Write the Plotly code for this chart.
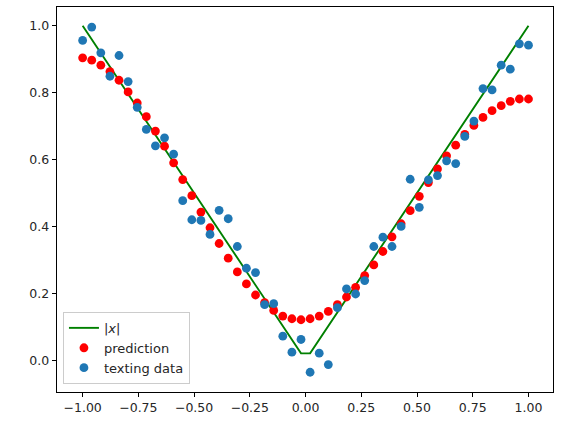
import numpy as np
import plotly.graph_objects as go

# x positions: 50 evenly spaced samples in [-1, 1]
x_vals = np.linspace(-1, 1, 50)
abs_x = np.abs(x_vals)

prediction = [0.904, 0.897, 0.882, 0.863, 0.837, 0.802, 0.769, 0.728, 0.685, 0.640,
              0.590, 0.540, 0.492, 0.443, 0.396, 0.349, 0.305, 0.264, 0.228, 0.195,
              0.172, 0.149, 0.132, 0.124, 0.121, 0.124, 0.132, 0.146, 0.166, 0.189,
              0.218, 0.253, 0.285, 0.325, 0.369, 0.408, 0.447, 0.490, 0.531, 0.572,
              0.611, 0.643, 0.675, 0.702, 0.726, 0.746, 0.761, 0.774, 0.781, 0.781]

test_data = [0.956, 0.996, 0.919, 0.849, 0.911, 0.833, 0.756, 0.690, 0.641, 0.665,
             0.616, 0.477, 0.420, 0.418, 0.376, 0.448, 0.423, 0.340, 0.275, 0.262,
             0.166, 0.169, 0.072, 0.024, 0.062, -0.036, 0.021, -0.013, 0.157, 0.213,
             0.198, 0.238, 0.340, 0.368, 0.340, 0.400, 0.541, 0.457, 0.539, 0.552,
             0.596, 0.588, 0.669, 0.715, 0.812, 0.808, 0.882, 0.870, 0.946, 0.942]

x_ticks = [-1.0, -0.75, -0.5, -0.25, 0.0, 0.25, 0.5, 0.75, 1.0]
x_tick_labels = ["−1.00", "−0.75", "−0.50", "−0.25", "0.00", "0.25", "0.50", "0.75", "1.00"]
y_ticks = [0.0, 0.2, 0.4, 0.6, 0.8, 1.0]
y_tick_labels = ["0.0", "0.2", "0.4", "0.6", "0.8", "1.0"]

fig = go.Figure()
fig.add_trace(go.Scatter(x=x_vals, y=abs_x, mode="lines", name="|<i>x</i>|",
                         line=dict(color="#008000", width=1.9)))
fig.add_trace(go.Scatter(x=x_vals, y=prediction, mode="markers", name="prediction",
                         marker=dict(color="#ff0000", size=8.8, line=dict(width=0))))
fig.add_trace(go.Scatter(x=x_vals, y=test_data, mode="markers", name="texting data",
                         marker=dict(color="#1f77b4", size=8.8, line=dict(width=0))))

axis_common = dict(showgrid=False, zeroline=False, showline=True, linecolor="black",
                   linewidth=1, mirror=True, ticks="outside", ticklen=4.4,
                   tickcolor="black", tickwidth=1,
                   tickfont=dict(family="DejaVu Sans", size=12.5, color="#262626"))

fig.update_layout(
    width=562, height=421,
    margin=dict(l=57, r=8.5, t=6, b=27),
    plot_bgcolor="white", paper_bgcolor="white",
    font=dict(family="DejaVu Sans", size=12.5, color="#262626"),
    showlegend=True,
    legend=dict(x=0.012, y=0.021, xanchor="left", yanchor="bottom",
                bgcolor="rgba(255,255,255,0.8)", bordercolor="#cccccc", borderwidth=1,
                font=dict(family="DejaVu Sans", size=13, color="#262626"),
                tracegroupgap=0),
    xaxis=dict(range=[-1.115, 1.11], tickvals=x_ticks, ticktext=x_tick_labels, **axis_common),
    yaxis=dict(range=[-0.095, 1.056], tickvals=y_ticks, ticktext=y_tick_labels, **axis_common),
)

fig.write_html("out.html", config={"displayModeBar": False},
               post_script="document.body.style.margin='0';document.body.style.padding='0';")
